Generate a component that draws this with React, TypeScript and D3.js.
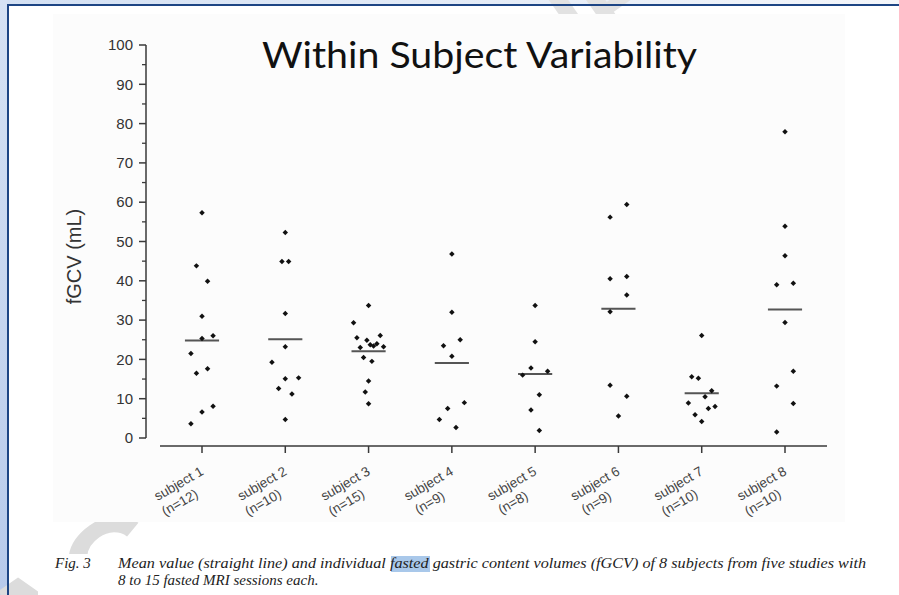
import React from "react";
import * as d3 from "d3";

// ---------- data ----------
const subjects = ["subject 1", "subject 2", "subject 3", "subject 4", "subject 5", "subject 6", "subject 7", "subject 8"];
const nLabels = ["(n=12)", "(n=10)", "(n=15)", "(n=9)", "(n=8)", "(n=9)", "(n=10)", "(n=10)"];

// fGCV values (mL) per subject, and their horizontal jitter as a fraction of the category step
const s1Values = [57.3, 43.8, 39.9, 31.0, 25.3, 26.0, 21.5, 16.5, 17.6, 8.1, 6.6, 3.6];
const s1Jitter = [0, -0.067, 0.067, 0, 0, 0.133, -0.133, -0.067, 0.067, 0.133, 0, -0.133];
const s2Values = [52.3, 44.9, 44.9, 31.7, 23.2, 19.3, 15.1, 15.3, 12.6, 11.2, 4.7];
const s2Jitter = [0, -0.04, 0.04, 0, 0, -0.16, 0, 0.16, -0.08, 0.08, 0];
const s3Values = [33.7, 29.3, 25.5, 24.9, 26.1, 23.0, 23.7, 23.4, 24.0, 23.2, 20.5, 19.5, 14.5, 11.7, 8.7];
const s3Jitter = [0, -0.18, -0.14, -0.02, 0.14, -0.1, 0.02, 0.06, 0.1, 0.18, -0.06, 0.04, 0, -0.04, 0];
const s4Values = [46.8, 32.0, 23.5, 25.0, 20.8, 9.0, 7.5, 4.7, 2.7];
const s4Jitter = [0, 0, -0.1, 0.1, 0, 0.15, -0.05, -0.15, 0.05];
const s5Values = [33.7, 24.5, 17.8, 17.0, 16.0, 11.0, 7.1, 1.9];
const s5Jitter = [0, 0, -0.05, 0.15, -0.15, 0.05, -0.05, 0.05];
const s6Values = [59.4, 56.2, 40.5, 41.1, 36.4, 32.1, 13.4, 10.6, 5.6];
const s6Jitter = [0.1, -0.1, -0.1, 0.1, 0.1, -0.1, -0.1, 0.1, 0];
const s7Values = [26.1, 15.6, 15.2, 12.0, 10.5, 8.9, 7.5, 8.0, 5.9, 4.2];
const s7Jitter = [0, -0.12, -0.04, 0.12, 0.04, -0.16, 0.08, 0.16, -0.08, 0];
const s8Values = [77.9, 53.9, 46.4, 39.0, 39.4, 29.4, 17.0, 13.2, 8.8, 1.5];
const s8Jitter = [0, 0, 0, -0.1, 0.1, 0, 0.1, -0.1, 0.1, -0.1];

const meanValues = [24.8, 25.1, 22.1, 19.1, 16.3, 32.9, 11.4, 32.7];
const yMajorTicks = [0, 10, 20, 30, 40, 50, 60, 70, 80, 90, 100];
const yMinorTicks = [5, 15, 25, 35, 45, 55, 65, 75, 85, 95];

const titleText = "Within Subject Variability";
const yLabel = "fGCV (mL)";
const captionFig = "Fig. 3";
const captionLine1 = "Mean value (straight line) and individual fasted gastric content volumes (fGCV) of 8 subjects from five studies with";
const captionLine2 = "8 to 15 fasted MRI sessions each.";
const watermarkBottom = "AC";
const watermarkTop = "RIPT";

const allValues = [s1Values, s2Values, s3Values, s4Values, s5Values, s6Values, s7Values, s8Values];
const allJitter = [s1Jitter, s2Jitter, s3Jitter, s4Jitter, s5Jitter, s6Jitter, s7Jitter, s8Jitter];

export default function App() {
  const W = 899;
  const H = 595;
  const x = d3.scalePoint<string>().domain(subjects).range([202, 785]);
  const y = d3.scaleLinear().domain([0, 100]).range([438, 45]);
  const step = x.step();
  const axisX = 146;
  const xAxisY = 446;
  const dot = d3.symbol(d3.symbolSquare, 15)() as string;
  const axisColor = "#3a3a3a";

  return (
    <svg width={W} height={H} style={{ position: "absolute", left: 0, top: 0, display: "block" }}>
      <defs>
        <linearGradient id="leftStrip" x1="0" y1="0" x2="0" y2="1">
          <stop offset="0" stopColor="#d6e2f4" />
          <stop offset="1" stopColor="#b7caeb" />
        </linearGradient>
        <linearGradient id="topStrip" x1="0" y1="0" x2="1" y2="0">
          <stop offset="0" stopColor="#d3e0f3" />
          <stop offset="1" stopColor="#f4f6fa" />
        </linearGradient>
      </defs>
      <rect x={0} y={0} width={W} height={H} fill="#ffffff" />
      <rect x={0} y={0} width={W} height={5} fill="url(#topStrip)" />
      <rect x={0} y={0} width={7} height={H} fill="url(#leftStrip)" />

      {/* watermark fragments */}
      <text
        transform="translate(22,688) rotate(-35)"
        fontFamily="Liberation Sans, Arial, sans-serif"
        fontWeight="bold"
        fontSize={135}
        fill="#dcdcdc"
      >
        {watermarkBottom}
      </text>
      <text
        transform="translate(520,110) rotate(-35)"
        fontFamily="Liberation Sans, Arial, sans-serif"
        fontWeight="bold"
        fontSize={110}
        fill="#e2e2e2"
      >
        {watermarkTop}
      </text>

      {/* frame */}
      <line x1={7} y1={5} x2={W} y2={5} stroke="#1d4584" strokeWidth={2} />
      <line x1={8} y1={5} x2={8} y2={H} stroke="#1d4584" strokeWidth={2} />

      {/* chart image area */}
      <rect x={53} y={14} width={792} height={508} fill="#fcfcfc" />
      {/* caption image area */}
      <rect x={38} y={554} width={850} height={41} fill="#ffffff" />

      {/* title */}
      <text x={262} y={68} fontFamily="Lato, 'Open Sans', sans-serif" fontSize={37} fill="#111" textLength={435} lengthAdjust="spacingAndGlyphs">
        {titleText}
      </text>

      {/* y axis */}
      <line x1={axisX} y1={y(100)} x2={axisX} y2={y(0)} stroke={axisColor} strokeWidth={1.5} />
      {yMajorTicks.map((t) => (
        <g key={"ym" + t}>
          <line x1={axisX - 7} x2={axisX} y1={y(t)} y2={y(t)} stroke={axisColor} strokeWidth={1.5} />
          <text x={133} y={y(t)} dy="0.35em" textAnchor="end" fontFamily="Liberation Sans, Arial, sans-serif" fontSize={15} fill="#333">
            {t}
          </text>
        </g>
      ))}
      {yMinorTicks.map((t) => (
        <line key={"yn" + t} x1={axisX - 4} x2={axisX} y1={y(t)} y2={y(t)} stroke={axisColor} strokeWidth={1.3} />
      ))}
      <text
        transform={`translate(81,${(y(0) + y(100)) / 2 + 15}) rotate(-90)`}
        textAnchor="middle"
        fontFamily="Liberation Sans, Arial, sans-serif"
        fontSize={20}
        fill="#333"
      >
        {yLabel}
      </text>

      {/* x axis */}
      <line x1={160} x2={827} y1={xAxisY} y2={xAxisY} stroke={axisColor} strokeWidth={1.5} />
      {subjects.map((s, i) => (
        <g key={"xt" + s}>
          <line x1={x(s)!} x2={x(s)!} y1={xAxisY} y2={xAxisY + 7} stroke={axisColor} strokeWidth={1.5} />
          <g transform={`translate(${x(s)! - 21},${487.5}) rotate(-30)`} fontFamily="Liberation Sans, Arial, sans-serif" fontSize={13.5} fill="#444">
            <text x={0} y={0} textAnchor="middle">{s}</text>
            <text x={-8.5} y={17} textAnchor="middle">{nLabels[i]}</text>
          </g>
        </g>
      ))}

      {/* mean lines */}
      {subjects.map((s, i) => (
        <line
          key={"mean" + s}
          x1={x(s)! - step * 0.205}
          x2={x(s)! + step * 0.205}
          y1={y(meanValues[i])}
          y2={y(meanValues[i])}
          stroke="#555"
          strokeWidth={2}
        />
      ))}

      {/* points */}
      {subjects.map((s, i) =>
        allValues[i].map((v, j) => (
          <path
            key={s + "-" + j}
            d={dot}
            transform={`translate(${x(s)! + allJitter[i][j] * step},${y(v)}) rotate(45)`}
            fill="#111"
          />
        ))
      )}

      {/* caption */}
      <rect x={391} y={556} width={39} height={16} fill="#a9c8ea" />
      <g fontFamily="Liberation Serif, 'Times New Roman', serif" fontStyle="italic" fontSize={15} fill="#222">
        <text x={55} y={568}>{captionFig}</text>
        <text x={118} y={568} textLength={748} lengthAdjust="spacingAndGlyphs">{captionLine1}</text>
        <text x={118} y={585}>{captionLine2}</text>
      </g>
    </svg>
  );
}
